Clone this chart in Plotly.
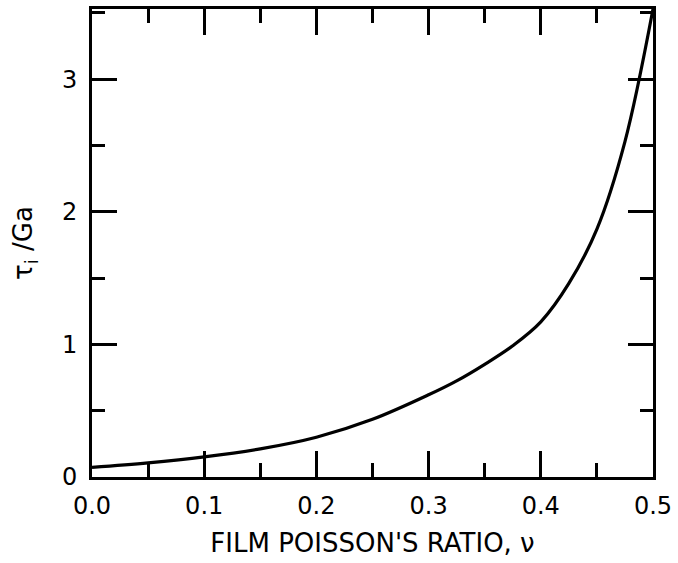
import plotly.graph_objects as go

nu = [0.0, 0.05, 0.10, 0.15, 0.20, 0.25, 0.30, 0.325, 0.35, 0.375, 0.40, 0.425, 0.45, 0.475, 0.50]
tau = [0.073, 0.107, 0.152, 0.212, 0.30, 0.435, 0.62, 0.725, 0.85, 0.99, 1.17, 1.46, 1.87, 2.53, 3.53]

x_ticks = [0.0, 0.1, 0.2, 0.3, 0.4, 0.5]
x_tick_labels = ["0.0", "0.1", "0.2", "0.3", "0.4", "0.5"]
y_ticks = [0, 1, 2, 3]
y_tick_labels = ["0", "1", "2", "3"]

fig = go.Figure()
fig.add_trace(go.Scatter(x=nu, y=tau, mode="lines",
                         line=dict(color="black", width=3.2, shape="spline", smoothing=1.0),
                         showlegend=False, hoverinfo="skip"))

tick_font = dict(family="DejaVu Sans", size=24, color="black")
title_font = dict(family="DejaVu Sans", size=26, color="black")

fig.update_layout(
    width=678, height=563,
    margin=dict(l=92, r=21, t=6, b=86),
    paper_bgcolor="white", plot_bgcolor="white",
    font=tick_font,
    xaxis=dict(range=[0, 0.5], tickvals=x_ticks, ticktext=x_tick_labels,
               ticks="inside", ticklen=26, tickwidth=2.6, tickcolor="black",
               showline=True, linecolor="black", linewidth=2.8, mirror="ticks",
               showgrid=False, zeroline=False, ticklabelstandoff=5,
               minor=dict(dtick=0.05, ticks="inside", ticklen=14, tickwidth=2.6,
                          tickcolor="black", showgrid=False),
               tickfont=tick_font,
               title=dict(text="FILM POISSON'S RATIO, ν", font=title_font, standoff=16)),
    yaxis=dict(range=[0, 3.53], tickvals=y_ticks, ticktext=y_tick_labels,
               ticks="inside", ticklen=25, tickwidth=2.6, tickcolor="black",
               showline=True, linecolor="black", linewidth=2.8, mirror="ticks",
               showgrid=False, zeroline=False, ticklabelstandoff=7,
               minor=dict(dtick=0.5, ticks="inside", ticklen=13, tickwidth=2.6,
                          tickcolor="black", showgrid=False),
               tickfont=tick_font,
               title=dict(text="τ<sub>i</sub> /Ga", font=title_font, standoff=22)),
)

fig.write_html("out.html")
